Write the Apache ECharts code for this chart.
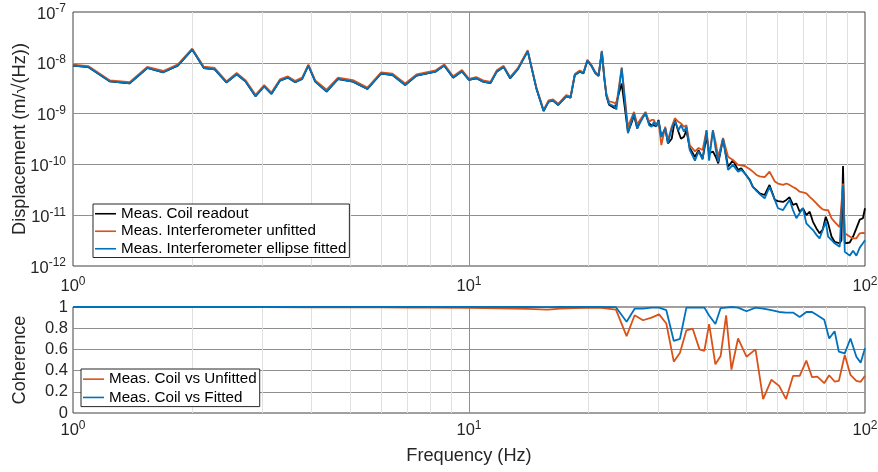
<!DOCTYPE html>
<html>
<head>
<meta charset="utf-8">
<script src="https://cdn.jsdelivr.net/npm/echarts@6/dist/echarts.min.js"></script>
<style>
html,body{margin:0;padding:0;background:#fff;}
#c{width:878px;height:472px;}
</style>
</head>
<body>
<div id="c"></div>
<script>
// ---------- data ----------
const freqPSD = [1.0,1.095,1.24,1.39,1.54,1.69,1.84,2.0,2.14,2.28,2.44,2.59,2.73,2.89,3.04,3.17,3.33,3.49,3.64,3.79,3.93,4.09,4.37,4.67,5.09,5.54,6.0,6.41,6.9,7.37,8.24,8.66,9.12,9.6,10.0,
10.43,10.85,11.33,11.75,12.23,12.7,13.3,14.07,14.8,15.43,15.88,16.3,16.8,17.6,18.05,18.5,19.04,19.46,19.9,20.36,20.84,21.25,21.65,21.98,22.23,22.57,23.33,23.56,24.3,
25.2,25.7,26.1,26.6,27.0,27.9,28.5,28.9,29.3,29.7,30.1,30.6,31.3,31.8,32.5,33.1,33.8,34.3,34.9,35.4,36.1,37.2,38.0,38.9,39.8,40.4,41.3,42.0,42.6,43.8,
45.1,46.4,47.8,48.7,49.7,51.2,52.1,53.2,54.2,55.8,57.4,59.2,60.3,62.1,63.3,64.5,65.8,67.1,68.4,69.7,71.1,72.5,73.9,75.4,76.8,78.2,79.6,80.7,82.3,83.8,86.3,87.2,88.0,88.9,89.8,91.5,93.3,95.1,97.0,98.8,100];

const coilPSD = [8.8e-9,8.2e-9,4.3e-9,3.95e-9,7.9e-9,6.5e-9,8.8e-9,1.82e-8,7.9e-9,7.4e-9,4.1e-9,5.95e-9,4.25e-9,2.2e-9,3.45e-9,2.45e-9,4.45e-9,5.1e-9,4.15e-9,4.8e-9,8.8e-9,4.25e-9,2.7e-9,4.8e-9,4.25e-9,3.05e-9,6.15e-9,5.75e-9,3.65e-9,5.6e-9,6.7e-9,8.8e-9,5.1e-9,6.8e-9,4.6e-9,
4.95e-9,4.25e-9,4.0e-9,6.7e-9,8.3e-9,4.95e-9,7.6e-9,1.7e-8,3.1e-9,1.12e-9,1.72e-9,1.8e-9,1.48e-9,2.19e-9,2.06e-9,5.75e-9,6.7e-9,6.2e-9,1.1e-8,8.8e-9,6.3e-9,5.5e-9,1.66e-8,4.7e-9,2.25e-9,1.5e-9,1.27e-9,1.16e-9,3.9e-9,
4.3e-10,6.4e-10,9.3e-10,5.1e-10,7.0e-10,1.0e-9,6.4e-10,5.9e-10,5.9e-10,5.6e-10,7.5e-10,3.5e-10,5.1e-10,2.6e-10,3.2e-10,7.5e-10,4.4e-10,3.2e-10,3.5e-10,4.7e-10,2.1e-10,1.4e-10,1.9e-10,1.3e-10,3.5e-10,1.65e-10,1.8e-10,1.4e-10,1.05e-10,3.2e-10,
9.0e-11,1.2e-10,7.8e-11,8.4e-11,6.7e-11,4.9e-11,3.6e-11,3.1e-11,2.7e-11,2.5e-11,3.94e-11,2.0e-11,1.9e-11,1.82e-11,2.0e-11,2.25e-11,1.6e-11,1.7e-11,1.17e-11,1.37e-11,1.0e-11,1.17e-11,7.4e-12,5.5e-12,4.4e-12,5.2e-12,9.3e-12,6.9e-12,3.8e-12,3.0e-12,2.8e-12,3.2e-12,9.3e-11,2.8e-12,2.8e-12,2.9e-12,3.8e-12,5.5e-12,8.2e-12,8.7e-12,1.37e-11];

const unfittedPSD = [9.2e-9,8.6e-9,4.5e-9,4.15e-9,8.3e-9,6.9e-9,9.3e-9,1.9e-8,8.4e-9,7.9e-9,4.3e-9,6.3e-9,4.5e-9,2.35e-9,3.65e-9,2.6e-9,4.7e-9,5.4e-9,4.4e-9,5.1e-9,9.2e-9,4.5e-9,2.95e-9,5.1e-9,4.55e-9,3.25e-9,6.5e-9,6.1e-9,3.9e-9,5.9e-9,7.1e-9,9.3e-9,5.45e-9,7.2e-9,4.85e-9,
5.25e-9,4.5e-9,4.2e-9,7.1e-9,8.7e-9,5.25e-9,8.0e-9,1.77e-8,3.25e-9,1.18e-9,1.82e-9,1.9e-9,1.56e-9,2.3e-9,2.18e-9,6.05e-9,7.05e-9,6.5e-9,1.15e-8,9.2e-9,6.6e-9,5.8e-9,1.72e-8,5.0e-9,2.45e-9,1.75e-9,1.63e-9,1.48e-9,8.1e-9,
5.5e-10,8.1e-10,1.08e-9,6.1e-10,7.4e-10,1.08e-9,6.9e-10,7.5e-10,7.5e-10,5.9e-10,6.9e-10,2.4e-10,5.5e-10,3.0e-10,5.5e-10,8.1e-10,6.9e-10,6.4e-10,5.5e-10,5.9e-10,2.4e-10,1.8e-10,2.1e-10,1.92e-10,4.7e-10,1.5e-10,4.7e-10,2.6e-10,1.4e-10,3.3e-10,
1.42e-10,1.22e-10,9.8e-11,9.6e-11,9.3e-11,8.0e-11,7.2e-11,6.2e-11,5.8e-11,5.6e-11,7.2e-11,4.6e-11,4.2e-11,3.94e-11,4.2e-11,3.94e-11,3.6e-11,3.3e-11,2.9e-11,2.8e-11,2.7e-11,2.3e-11,2.0e-11,1.7e-11,1.47e-11,1.3e-11,1.26e-11,1.26e-11,8.7e-12,7.4e-12,5.8e-12,5.7e-12,4.2e-11,4.4e-12,4.2e-12,3.8e-12,3.5e-12,3.5e-12,4.4e-12,4.5e-12,4.4e-12];

const fittedPSD = [8.85e-9,8.2e-9,4.3e-9,3.95e-9,7.9e-9,6.5e-9,8.85e-9,1.83e-8,7.9e-9,7.4e-9,4.1e-9,5.96e-9,4.26e-9,2.19e-9,3.45e-9,2.43e-9,4.47e-9,5.13e-9,4.14e-9,4.81e-9,8.85e-9,4.27e-9,2.71e-9,4.81e-9,4.27e-9,3.05e-9,6.16e-9,5.77e-9,3.66e-9,5.6e-9,6.73e-9,8.85e-9,5.13e-9,6.8e-9,4.6e-9,
4.97e-9,4.27e-9,4.0e-9,6.73e-9,8.3e-9,4.97e-9,7.6e-9,1.7e-8,3.1e-9,1.12e-9,1.72e-9,1.8e-9,1.48e-9,2.19e-9,2.06e-9,5.77e-9,6.73e-9,6.22e-9,1.11e-8,8.85e-9,6.3e-9,5.6e-9,1.67e-8,4.8e-9,2.3e-9,1.55e-9,1.37e-9,1.2e-9,7.8e-9,
4.1e-10,6.9e-10,1.01e-9,5.1e-10,6.4e-10,1.04e-9,5.9e-10,5.5e-10,6.9e-10,5.6e-10,7.2e-10,3.5e-10,5.1e-10,2.6e-10,5.1e-10,7.2e-10,4.7e-10,5.9e-10,4.4e-10,5.5e-10,1.92e-10,1.19e-10,1.8e-10,1.25e-10,4.7e-10,1.19e-10,4.7e-10,1.92e-10,1.13e-10,3.2e-10,
7.8e-11,9.8e-11,7.2e-11,7.8e-11,6.7e-11,4.8e-11,3.6e-11,3.0e-11,2.6e-11,2.15e-11,3.6e-11,2.0e-11,1.37e-11,1.26e-11,1.6e-11,2.0e-11,1.26e-11,8.7e-12,1.1e-11,1.37e-11,6.9e-12,5.9e-12,5.1e-12,4.1e-12,3.5e-12,5.1e-12,7.4e-12,3.8e-12,3.25e-12,2.8e-12,2.4e-12,2.5e-12,3.94e-11,1.9e-12,2.0e-12,1.6e-12,2.0e-12,1.6e-12,2.3e-12,2.8e-12,3.2e-12];

const freqCoh = [1,1.5,2,3,4,5,6,7,8,10,12,14,15.8,17,18.5,20,21.3,23.5,25.0,26.2,27.5,28.9,30.2,31.5,32.9,34.1,35.4,36.7,38.2,39.3,40.4,41.9,43.2,44.6,46.0,47.8,50.2,52.9,55.3,58.0,60.7,63.2,65.8,68.4,71.1,73.5,75.8,78.9,81.2,83.8,85.9,88.9,91.9,95.1,97.5,100];
const cohUnfitted = [1.0,1.0,0.999,0.998,0.997,0.996,0.996,0.995,0.995,0.993,0.988,0.982,0.975,0.985,0.99,0.993,0.994,0.975,0.725,0.922,0.875,0.9,0.93,0.844,0.484,0.569,0.78,0.797,0.6,0.587,0.838,0.459,0.538,0.922,0.41,0.703,0.531,0.6,0.131,0.313,0.256,0.131,0.35,0.35,0.494,0.338,0.344,0.281,0.356,0.297,0.303,0.547,0.359,0.303,0.294,0.35];
const cohFitted = [1.0,1.0,1.0,1.0,1.0,1.0,1.0,1.0,1.0,1.0,1.0,1.0,0.999,1.0,1.0,1.0,1.0,0.998,0.86,0.984,0.984,0.994,0.994,0.97,0.68,0.70,0.994,0.994,0.994,0.994,0.92,0.84,0.99,0.995,1.0,0.994,0.96,0.994,0.984,0.97,0.953,0.947,0.947,0.906,0.953,0.953,0.922,0.88,0.703,0.772,0.578,0.5625,0.703,0.531,0.475,0.61];

const seriesNamesPSD = ['Meas. Coil readout','Meas. Interferometer unfitted','Meas. Interferometer ellipse fitted'];
const seriesNamesCoh = ['Meas. Coil vs Unfitted','Meas. Coil vs Fitted'];
const minorX = [2,3,4,5,6,7,8,9,20,30,40,50,60,70,80,90];
const minorMult = [2,3,4,5,6,7,8,9];
const decadesY = [-12,-11,-10,-9,-8];

// ---------- styling ----------
const FONT = '"Liberation Sans", Arial, Helvetica, sans-serif';
const TXT = '#262626';
const C_BLACK = '#000000', C_ORANGE = '#D95319', C_BLUE = '#0072BD';
const MAJOR = '#8f8f8f', MINOR = '#e0e0e0';

const zip = (xs, ys) => xs.map((x, i) => [x, ys[i]]);
const minorY = [];
decadesY.forEach(d => minorMult.forEach(m => minorY.push(m * Math.pow(10, d))));

const powRich = {
  b: {fontSize: 16.5, fontFamily: FONT, color: TXT, padding: [4,0,0,0]},
  s: {fontSize: 12, fontFamily: FONT, color: TXT, padding: [0,0,6,0]}
};
const powFmt = v => '{b|10}{s|' + Math.round(Math.log10(v)) + '}';

function logXAxis(gridIndex, margin, extra) {
  return Object.assign({
    type: 'log', logBase: 10, gridIndex, min: 1, max: 100,
    axisLine: {show: false}, axisTick: {show: false},
    axisLabel: {formatter: powFmt, rich: powRich, margin, showMinLabel: true, showMaxLabel: true},
    splitLine: {show: true, showMinLine: false, showMaxLine: false, lineStyle: {color: MAJOR, width: 1}}
  }, extra || {});
}

const lineBase = {type: 'line', showSymbol: false, symbol: 'none', animation: false, clip: true};

const option = {
  animation: false,
  backgroundColor: '#fff',
  textStyle: {fontFamily: FONT},
  grid: [
    {left: 73, right: 13, top: 12, height: 254, show: true, borderColor: '#404040', borderWidth: 1,
     backgroundColor: 'transparent', containLabel: false, outerBoundsMode: 'none'},
    {left: 73, right: 13, top: 307, height: 106, show: true, borderColor: '#404040', borderWidth: 1,
     backgroundColor: 'transparent', containLabel: false, outerBoundsMode: 'none'}
  ],
  xAxis: [
    logXAxis(0, 8),
    logXAxis(1, 5, {name: 'Frequency (Hz)', nameLocation: 'middle', nameGap: 34, nameMoveOverlap: false,
      nameTextStyle: {fontSize: 18.2, color: TXT, fontFamily: FONT}})
  ],
  yAxis: [
    {type: 'log', logBase: 10, gridIndex: 0, min: 1e-12, max: 1e-7,
     name: 'Displacement (m/\u221A(Hz))', nameLocation: 'middle', nameGap: 44, nameRotate: 90, nameMoveOverlap: false,
     nameTextStyle: {fontSize: 18.2, color: TXT, fontFamily: FONT},
     axisLine: {show: false}, axisTick: {show: false},
     axisLabel: {formatter: powFmt, rich: powRich, margin: 7},
     splitLine: {show: true, showMinLine: false, showMaxLine: false, lineStyle: {color: MAJOR, width: 1}}},
    {type: 'value', gridIndex: 1, min: 0, max: 1, interval: 0.2,
     name: 'Coherence', nameLocation: 'middle', nameGap: 44, nameRotate: 90, nameMoveOverlap: false,
     nameTextStyle: {fontSize: 18.2, color: TXT, fontFamily: FONT},
     axisLine: {show: false}, axisTick: {show: false},
     axisLabel: {fontSize: 16.5, color: TXT, fontFamily: FONT, margin: 5,
       formatter: v => (v === 0 || v === 1) ? String(v) : v.toFixed(1)},
     splitLine: {show: true, showMinLine: false, showMaxLine: false, lineStyle: {color: MAJOR, width: 1}}}
  ],
  legend: [
    {data: seriesNamesPSD, orient: 'vertical', left: 93, top: 204, icon: 'rect', itemWidth: 21, itemHeight: 1.6, itemGap: 0,
     padding: [1, 3, 0, 2], borderColor: '#262626', borderWidth: 1, backgroundColor: '#fff',
     textStyle: {fontSize: 15.2, color: '#000', fontFamily: FONT, lineHeight: 17.5}, selectedMode: false},
    {data: seriesNamesCoh, orient: 'vertical', left: 81, top: 369, icon: 'rect', itemWidth: 21, itemHeight: 1.6, itemGap: 0,
     padding: [1, 3, 0, 2], borderColor: '#262626', borderWidth: 1, backgroundColor: '#fff',
     textStyle: {fontSize: 15.2, color: '#000', fontFamily: FONT, lineHeight: 18.3}, selectedMode: false}
  ],
  series: [
    {type: 'line', name: 'gridMinorTop', xAxisIndex: 0, yAxisIndex: 0, data: [], silent: true, z: 1,
     markLine: {silent: true, symbol: 'none', z: 1, animation: false, label: {show: false},
       lineStyle: {color: MINOR, type: 'solid', width: 1},
       data: minorX.map(v => ({xAxis: v})).concat(minorY.map(v => ({yAxis: v})))}},
    {type: 'line', name: 'gridMinorBottom', xAxisIndex: 1, yAxisIndex: 1, data: [], silent: true, z: 1,
     markLine: {silent: true, symbol: 'none', z: 1, animation: false, label: {show: false},
       lineStyle: {color: MINOR, type: 'solid', width: 1},
       data: minorX.map(v => ({xAxis: v}))}},
    Object.assign({}, lineBase, {name: seriesNamesPSD[0], xAxisIndex: 0, yAxisIndex: 0, color: C_BLACK, z: 2,
      lineStyle: {width: 1.8, color: C_BLACK}, data: zip(freqPSD, coilPSD)}),
    Object.assign({}, lineBase, {name: seriesNamesPSD[1], xAxisIndex: 0, yAxisIndex: 0, color: C_ORANGE, z: 3,
      lineStyle: {width: 1.8, color: C_ORANGE}, data: zip(freqPSD, unfittedPSD)}),
    Object.assign({}, lineBase, {name: seriesNamesPSD[2], xAxisIndex: 0, yAxisIndex: 0, color: C_BLUE, z: 4,
      lineStyle: {width: 1.8, color: C_BLUE}, data: zip(freqPSD, fittedPSD)}),
    Object.assign({}, lineBase, {name: seriesNamesCoh[0], xAxisIndex: 1, yAxisIndex: 1, color: C_ORANGE, z: 3,
      lineStyle: {width: 1.8, color: C_ORANGE}, data: zip(freqCoh, cohUnfitted)}),
    Object.assign({}, lineBase, {name: seriesNamesCoh[1], xAxisIndex: 1, yAxisIndex: 1, color: C_BLUE, z: 4,
      lineStyle: {width: 1.8, color: C_BLUE}, data: zip(freqCoh, cohFitted)})
  ]
};

const chart = echarts.init(document.getElementById('c'), null, {renderer: 'canvas'});
chart.setOption(option);
</script>
</body>
</html>
